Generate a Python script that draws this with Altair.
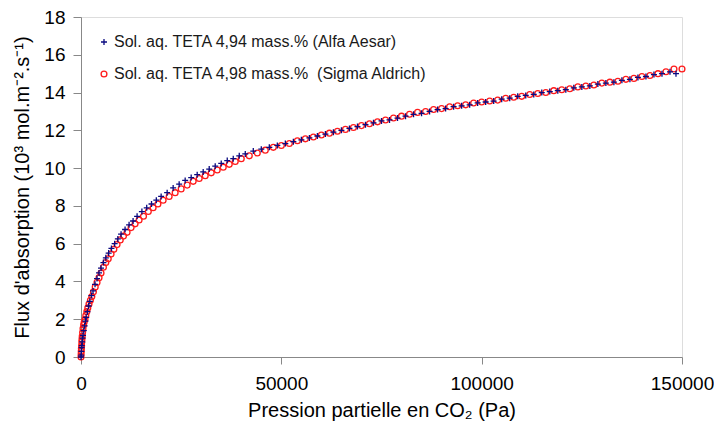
import altair as alt
import pandas as pd

S1 = "Sol. aq. TETA 4,94 mass.% (Alfa Aesar)"
S2 = "Sol. aq. TETA 4,98 mass.%\u00a0 (Sigma Aldrich)"

x_blue = [0, 50, 100, 150, 200, 300, 400, 500, 700, 900, 1100, 1300, 1600, 1900, 2200, 2600, 3000, 3500,
          4000, 4500, 5000, 5600, 6200, 6900, 7600, 8400, 9200, 10000, 11000, 12000, 13000, 14000, 15200,
          16400, 17600, 18800, 20000, 21500, 23000, 24500, 26000, 27500, 29000, 30500, 32000, 33500, 35000,
          36500, 38000, 39500, 41000, 43000, 45000, 47000, 49000, 51000, 53000, 55000, 57000, 59000, 61000,
          63000, 65000, 67000, 69000, 71000, 73000, 75000, 77000, 79000, 81000, 83000, 85000, 87000, 89000,
          91000, 93000, 95000, 97000, 99000, 101000, 103000, 105000, 107000, 109000, 111000, 113000, 115000,
          117000, 119000, 121000, 123000, 125000, 127000, 129000, 131000, 133000, 135000, 137000, 139000,
          141000, 143000, 145000, 147000, 148500]
y_blue = [0, 0.1, 0.3, 0.5, 0.6, 0.8, 1.0, 1.15, 1.4, 1.65, 1.9, 2.1, 2.4, 2.7, 2.95, 3.25, 3.5, 3.85,
          4.15, 4.45, 4.7, 5.0, 5.25, 5.5, 5.75, 6.0, 6.25, 6.5, 6.75, 7.0, 7.2, 7.45, 7.7,
          7.9, 8.1, 8.3, 8.5, 8.7, 8.95, 9.15, 9.35, 9.5, 9.65, 9.8, 9.95, 10.1, 10.25,
          10.4, 10.5, 10.65, 10.75, 10.9, 11.0, 11.1, 11.2, 11.3, 11.4, 11.5, 11.6, 11.7, 11.8,
          11.9, 12.0, 12.1, 12.2, 12.3, 12.4, 12.5, 12.55, 12.65, 12.75, 12.85, 12.9, 13.0, 13.1,
          13.15, 13.25, 13.3, 13.35, 13.45, 13.5, 13.55, 13.65, 13.7, 13.8, 13.85, 13.9, 14.0,
          14.05, 14.1, 14.15, 14.25, 14.3, 14.35, 14.45, 14.5, 14.55, 14.65, 14.7, 14.8,
          14.85, 14.95, 15.0, 15.1, 15.0]

x_red = [0, 30, 60, 100, 150, 200, 250, 300, 400, 500, 650, 800, 1000, 1200, 1450, 1700, 2000, 2350,
         2700, 3100, 3550, 4000, 4500, 5000, 5600, 6200, 6800, 7500, 8200, 9000, 9800, 10600, 11500,
         12500, 13500, 14500, 15600, 16800, 18000, 19200, 20500, 22000, 23500, 25000, 26500, 28000,
         29500, 31000, 32500, 34000, 35500, 37000, 38500, 40000, 42000, 44000, 46000, 48000, 50000,
         52000, 54000, 56000, 58000, 60000, 62000, 64000, 66000, 68000, 70000, 72000, 74000, 76000,
         78000, 80000, 82000, 84000, 86000, 88000, 90000, 92000, 94000, 96000, 98000, 100000, 102000,
         104000, 106000, 108000, 110000, 112000, 114000, 116000, 118000, 120000, 122000, 124000, 126000,
         128000, 130000, 132000, 134000, 136000, 138000, 140000, 142000, 144000, 146000, 148000, 150000]
y_red = [0, 0.15, 0.3, 0.45, 0.6, 0.8, 0.95, 1.1, 1.3, 1.5, 1.7, 1.85, 2.0, 2.2, 2.4, 2.6, 2.8, 3.0,
         3.2, 3.45, 3.7, 3.95, 4.2, 4.45, 4.75, 5.0, 5.2, 5.45, 5.7, 5.95, 6.2, 6.4, 6.6,
         6.85, 7.05, 7.25, 7.45, 7.7, 7.9, 8.1, 8.3, 8.5, 8.7, 8.9, 9.1, 9.3,
         9.45, 9.6, 9.75, 9.9, 10.05, 10.2, 10.35, 10.5, 10.65, 10.8, 10.95, 11.1, 11.2,
         11.3, 11.45, 11.55, 11.65, 11.75, 11.85, 11.95, 12.05, 12.15, 12.25, 12.35, 12.45, 12.55,
         12.65, 12.75, 12.85, 12.95, 13.0, 13.1, 13.15, 13.25, 13.3, 13.35, 13.45, 13.5, 13.55,
         13.6, 13.7, 13.75, 13.8, 13.9, 13.95, 14.0, 14.1, 14.15, 14.2, 14.3, 14.35,
         14.4, 14.5, 14.55, 14.6, 14.7, 14.75, 14.85, 14.9, 15.0, 15.1, 15.25, 15.25]

x_ticks = [0, 50000, 100000, 150000]
y_ticks = [0, 2, 4, 6, 8, 10, 12, 14, 16, 18]

rows = [{"p": x, "f": y, "s": S2, "o": 0} for x, y in zip(x_red, y_red)]
rows += [{"p": x, "f": y, "s": S1, "o": 1} for x, y in zip(x_blue, y_blue)]
df = pd.DataFrame(rows)

FONT = "Liberation Sans"
TXT = "#1a1a1a"
AX = "#333333"

chart = alt.Chart(df).mark_point(filled=False, strokeWidth=1.3, opacity=1).encode(
    x=alt.X("p:Q", scale=alt.Scale(domain=[0, 150000], nice=False, zero=False),
            axis=alt.Axis(values=x_ticks, format="d", grid=False, title="Pression partielle en CO₂ (Pa)",
                          tickSize=7, labelPadding=10, titlePadding=7, labelFontSize=19, titleFontSize=20,
                          labelFlush=False, titleFontWeight="normal", labelFont=FONT, titleFont=FONT)),
    y=alt.Y("f:Q", scale=alt.Scale(domain=[0, 18], nice=False),
            axis=alt.Axis(values=y_ticks, grid=False, title="Flux d'absorption (10³ mol.m⁻².s⁻¹)",
                          tickSize=8, labelPadding=8, titlePadding=11, labelFontSize=19, titleFontSize=20,
                          titleFontWeight="normal", labelFont=FONT, titleFont=FONT)),
    color=alt.Color("s:N", scale=alt.Scale(domain=[S1, S2], range=["#0a0a80", "#ff1a1a"]),
                    legend=alt.Legend(title=None, orient="none", legendX=15, legendY=17,
                                      labelFontSize=16, labelFont=FONT, labelColor=TXT,
                                      rowPadding=16, labelOffset=2, symbolStrokeWidth=1.3,
                                      padding=0, labelLimit=500)),
    shape=alt.Shape("s:N", scale=alt.Scale(domain=[S1, S2], range=["M-1,0L1,0M0,-1L0,1", "circle"]),
                    legend=None),
    size=alt.Size("s:N", scale=alt.Scale(domain=[S1, S2], range=[36, 34]), legend=None),
    order=alt.Order("o:Q"),
).properties(
    width=601, height=340,
    padding={"left": 73, "top": 9, "right": 32, "bottom": 68},
    autosize=alt.AutoSizeParams(type="none"),
).configure_axis(
    labelColor=TXT, titleColor=TXT,
    domainColor=AX, tickColor=AX, domainWidth=1, tickWidth=1,
).configure_view(stroke=None).configure(background="white")

chart.save("out.html", embed_options={"renderer": "svg", "actions": False})
